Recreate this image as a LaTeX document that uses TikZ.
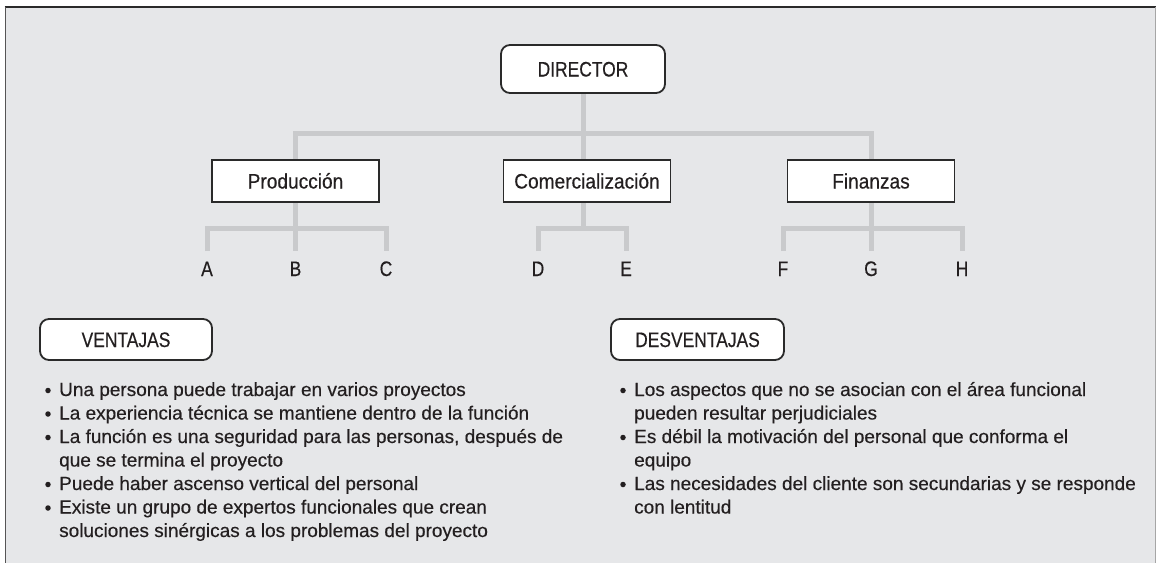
\documentclass[tikz,border=0pt]{standalone}
\usepackage{fontspec}
\setmainfont{Liberation Sans}[FakeBold=0.4]
\newfontfamily\capfont{Liberation Sans}[FakeStretch=0.83,FakeBold=0.4]
\newfontfamily\lblfont{Liberation Sans}[FakeStretch=0.91,FakeBold=0.4]
\usetikzlibrary{backgrounds}
\definecolor{bgC}{HTML}{E6E7E9}
\definecolor{lineC}{HTML}{C9CACC}
\definecolor{boxC}{HTML}{2A2A2A}
\definecolor{txtC}{HTML}{231F20}
\begin{document}
\begin{tikzpicture}[x=1pt,y=-1pt,
  conn/.style={draw=lineC, line width=5pt},
  roundbox/.style={draw=boxC, line width=1.8pt, fill=white, rounded corners=9pt,
     inner sep=0pt, text=txtC, text height=15pt, text depth=0pt,
     font=\capfont\fontsize{21}{24}\selectfont},
  sqbox/.style={draw=boxC, line width=1.3pt, fill=white, minimum width=167pt,
     minimum height=42pt, inner sep=0pt, text=txtC, text height=15pt, text depth=0pt,
     font=\lblfont\fontsize{21}{24}\selectfont},
  leaf/.style={anchor=north, inner xsep=0pt, inner ysep=10pt, outer sep=0pt,
     text height=15pt, text depth=0pt, text=txtC, font=\capfont\fontsize{21}{24}\selectfont},
  txt/.style={anchor=base west, inner sep=0pt, text=txtC, font=\fontsize{19}{23.5}\selectfont},
  bul/.style={circle, fill=txtC, inner sep=0pt, minimum size=5.5pt}
]
\useasboundingbox (0,0) rectangle (1157,563);

% nodes
\node[roundbox, minimum width=164pt, minimum height=48pt] (dir) at (583,69) {DIRECTOR};
\node[sqbox] (prod) at (295.5,181) {Producción};
\node[sqbox] (com) at (587,181) {Comercialización};
\node[sqbox] (fin) at (871,181) {Finanzas};

\node[leaf] (A) at (207,251) {A};
\node[leaf] (B) at (295.5,251) {B};
\node[leaf] (C) at (386,251) {C};
\node[leaf] (D) at (538,251) {D};
\node[leaf] (E) at (626,251) {E};
\node[leaf] (F) at (783,251) {F};
\node[leaf] (G) at (871,251) {G};
\node[leaf] (H) at (962,251) {H};

\node[roundbox, minimum width=172pt, minimum height=41pt] (vent) at (126,339.5) {VENTAJAS};
\node[roundbox, minimum width=173pt, minimum height=41pt] (desv) at (697.5,339.5) {DESVENTAJAS};

% left list
\node[bul] (lb1) at (48,390.5) {};
\node[txt] (l1) at (59,396) {Una persona puede trabajar en varios proyectos};
\node[bul] (lb2) at (48,414) {};
\node[txt] (l2) at (59,419.5) {La experiencia técnica se mantiene dentro de la función};
\node[bul] (lb3) at (48,437.5) {};
\node[txt] (l3) at (59,443) {La función es una seguridad para las personas, después de};
\node[txt] (l4) at (59,466.5) {que se termina el proyecto};
\node[bul] (lb5) at (48,484.5) {};
\node[txt] (l5) at (59,490) {Puede haber ascenso vertical del personal};
\node[bul] (lb6) at (48,508) {};
\node[txt] (l6) at (59,513.5) {Existe un grupo de expertos funcionales que crean};
\node[txt] (l7) at (59,537) {soluciones sinérgicas a los problemas del proyecto};

% right list
\node[bul] (rb1) at (623,390.5) {};
\node[txt] (r1) at (634,396) {Los aspectos que no se asocian con el área funcional};
\node[txt] (r2) at (634,419.5) {pueden resultar perjudiciales};
\node[bul] (rb3) at (623,437.5) {};
\node[txt] (r3) at (634,443) {Es débil la motivación del personal que conforma el};
\node[txt] (r4) at (634,466.5) {equipo};
\node[bul] (rb5) at (623,484.5) {};
\node[txt] (r5) at (634,490) {Las necesidades del cliente son secundarias y se responde};
\node[txt] (r6) at (634,513.5) {con lentitud};

\coordinate (bus) at (0,133);
\coordinate (sub) at (0,228);

\begin{scope}[on background layer]
  \fill[bgC] (5,7) rectangle (1155.5,563);
  \draw[conn] (dir.south) -- (dir.south |- com.north);
  \draw[conn] (prod.north) |- (fin.north |- bus) -- (fin.north);
  \draw[conn] (A.north) |- (C.north |- sub) -- (C.north);
  \draw[conn] (prod.south) -- (B.north);
  \draw[conn] (D.north) |- (E.north |- sub) -- (E.north);
  \draw[conn] (com.south -| dir.south) -- (dir.south |- sub);
  \draw[conn] (F.north) |- (H.north |- sub) -- (H.north);
  \draw[conn] (fin.south) -- (G.north);
\end{scope}

% frame
\draw[draw=boxC, line width=2pt] (4.5,7) -- (1156,7);
\draw[draw=boxC!80, line width=1.2pt] (5.5,7) -- (5.5,563);
\draw[draw=gray!70, line width=1pt] (1155.5,7) -- (1155.5,563);
\end{tikzpicture}
\end{document}
